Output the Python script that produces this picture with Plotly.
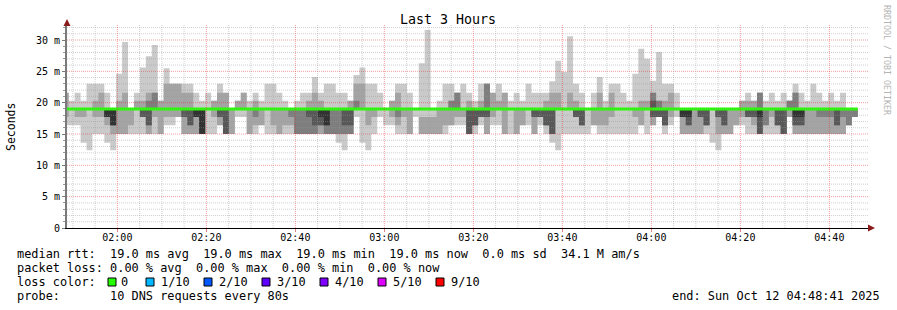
import plotly.graph_objects as go
import pandas as pd

# ---------------- data ----------------
start_time = "2025-10-12 01:47:44"
step_seconds = 80
end_label = "2025-10-12 04:48:41"

# 10 sorted ping round-trip times per 80 s step (ms)
ping1 = [16.4,16.4,16.4,13.6,12.4,15.0,15.0,13.6,12.4,15.0,
         15.0,15.0,15.0,15.0,15.0,15.0,15.0,16.4,16.4,17.7,
         15.0,15.0,15.0,15.0,15.0,15.0,16.4,15.0,15.0,17.7,
         17.7,15.0,15.0,16.4,15.0,15.0,15.0,15.0,15.0,15.0,
         15.0,15.0,15.0,15.0,15.0,15.0,13.6,12.4,15.0,17.7,
         13.6,12.4,15.0,17.7,16.4,16.4,15.0,15.0,15.0,17.7,
         15.0,15.0,15.0,15.0,15.0,16.4,16.4,16.4,15.0,15.0,
         16.4,15.0,16.4,16.4,15.0,15.0,15.0,16.4,16.4,15.0,
         16.4,15.0,13.6,12.4,15.0,15.0,15.0,15.0,15.0,16.4,
         15.0,15.0,15.0,15.0,15.0,15.0,15.0,16.4,15.0,16.4,
         17.7,15.0,16.4,17.7,15.0,15.0,15.0,15.0,15.0,13.6,
         12.4,15.0,15.0,16.4,16.4,15.0,15.0,15.0,15.0,15.0,
         15.0,15.0,17.7,15.0,15.0,15.0,15.0,15.0,15.0,15.0,
         15.0,15.0,16.4,17.7]
ping2 = [17.7,19.0,17.7,17.7,19.0,17.7,17.7,16.4,15.0,15.0,
         15.0,16.4,19.0,17.7,15.0,17.7,15.0,17.7,17.7,17.7,
         15.0,15.0,15.0,15.0,19.0,17.7,16.4,15.0,15.0,19.0,
         19.0,15.0,16.4,16.4,19.0,16.4,15.0,16.4,16.4,15.0,
         15.0,15.0,15.0,15.0,15.0,15.0,15.0,15.0,15.0,19.0,
         19.0,16.4,17.7,19.0,19.0,17.7,16.4,17.7,15.0,19.0,
         15.0,15.0,15.0,15.0,16.4,16.4,17.7,17.7,15.0,16.4,
         17.7,15.0,17.7,19.0,15.0,19.0,15.0,16.4,19.0,15.0,
         17.7,16.4,15.0,19.0,19.0,19.0,17.7,16.4,19.0,16.4,
         16.4,16.4,17.7,19.0,19.0,19.0,17.7,16.4,19.0,16.4,
         17.7,16.4,17.7,19.0,15.0,15.0,15.0,15.0,16.4,19.0,
         15.0,15.0,15.0,16.4,17.7,17.7,16.4,15.0,16.4,17.7,
         16.4,15.0,17.7,15.0,15.0,15.0,15.0,15.0,15.0,15.0,
         15.0,15.0,16.4,17.7]
ping3 = [19.0,19.0,19.0,19.0,19.0,19.0,19.0,17.7,16.4,19.0,
         19.0,19.0,19.0,17.7,16.4,19.0,19.0,19.0,19.0,19.0,
         17.7,16.4,17.7,15.0,19.0,19.0,17.7,15.0,19.0,19.0,
         19.0,19.0,17.7,19.0,19.0,19.0,19.0,19.0,17.7,15.0,
         15.0,15.0,15.0,16.4,15.0,15.0,15.0,15.0,15.0,19.0,
         19.0,19.0,19.0,19.0,19.0,19.0,17.7,19.0,19.0,19.0,
         17.7,17.7,17.7,19.0,19.0,19.0,19.0,19.0,15.0,16.4,
         17.7,17.7,19.0,19.0,19.0,19.0,19.0,19.0,19.0,17.7,
         17.7,16.4,15.0,19.0,19.0,19.0,17.7,16.4,19.0,19.0,
         19.0,19.0,19.0,19.0,19.0,19.0,19.0,19.0,19.0,17.7,
         17.7,16.4,19.0,19.0,17.7,16.4,19.0,17.7,16.4,19.0,
         17.7,16.4,19.0,19.0,19.0,17.7,17.7,15.0,16.4,19.0,
         16.4,15.0,19.0,16.4,16.4,19.0,19.0,17.7,17.7,17.7,
         16.4,17.7,16.4,17.7]
ping4 = [19.0,19.0,19.0,19.0,19.0,19.0,19.0,17.7,16.4,19.0,
         19.0,19.0,19.0,17.7,16.4,19.0,19.0,19.0,19.0,19.0,
         17.7,16.4,17.7,15.0,19.0,19.0,17.7,15.0,19.0,19.0,
         19.0,19.0,19.0,19.0,19.0,19.0,19.0,19.0,19.0,19.0,
         19.0,17.7,16.4,16.4,16.4,19.0,19.0,16.4,16.4,19.0,
         19.0,19.0,19.0,19.0,19.0,19.0,19.0,19.0,19.0,19.0,
         17.7,17.7,17.7,19.0,19.0,19.0,19.0,19.0,15.0,16.4,
         17.7,17.7,19.0,19.0,19.0,19.0,19.0,19.0,19.0,17.7,
         17.7,16.4,15.0,19.0,19.0,19.0,17.7,16.4,19.0,19.0,
         19.0,19.0,19.0,19.0,19.0,19.0,19.0,19.0,19.0,17.7,
         17.7,16.4,19.0,19.0,17.7,16.4,19.0,17.7,16.4,19.0,
         17.7,16.4,19.0,19.0,19.0,17.7,17.7,15.0,19.0,19.0,
         16.4,15.0,19.0,16.4,16.4,19.0,19.0,19.0,19.0,19.0,
         16.4,19.0,19.0,19.0]
ping5 = [19.0,19.0,19.0,19.0,19.0,19.0,19.0,17.7,16.4,19.0,
         19.0,19.0,19.0,19.0,19.0,19.0,19.0,19.0,19.0,19.0,
         19.0,19.0,17.7,15.0,19.0,19.0,19.0,19.0,19.0,19.0,
         19.0,19.0,19.0,19.0,19.0,19.0,19.0,19.0,19.0,19.0,
         19.0,19.0,19.0,17.7,16.4,19.0,19.0,19.0,19.0,19.0,
         19.0,19.0,19.0,19.0,19.0,19.0,19.0,19.0,19.0,19.0,
         17.7,17.7,17.7,19.0,19.0,19.0,19.0,19.0,19.0,19.0,
         19.0,19.0,19.0,19.0,19.0,19.0,19.0,19.0,19.0,19.0,
         19.0,19.0,19.0,19.0,19.0,19.0,19.0,19.0,19.0,19.0,
         19.0,19.0,19.0,19.0,19.0,19.0,19.0,19.0,19.0,19.0,
         19.0,19.0,19.0,19.0,17.7,17.7,19.0,19.0,19.0,19.0,
         19.0,19.0,19.0,19.0,19.0,19.0,19.0,17.7,19.0,19.0,
         19.0,19.0,19.0,17.7,17.7,19.0,19.0,19.0,19.0,19.0,
         19.0,19.0,19.0,19.0]
ping6 = [19.0,19.0,19.0,19.0,19.0,19.0,19.0,19.0,19.0,19.0,
         19.0,19.0,19.0,19.0,19.0,19.0,19.0,19.0,19.0,19.0,
         19.0,19.0,19.0,19.0,19.0,19.0,19.0,19.0,19.0,19.0,
         19.0,19.0,19.0,19.0,19.0,19.0,19.0,19.0,19.0,19.0,
         19.0,19.0,19.0,19.0,19.0,19.0,19.0,19.0,19.0,19.0,
         19.0,19.0,19.0,19.0,19.0,19.0,19.0,19.0,19.0,19.0,
         17.7,17.7,17.7,19.0,19.0,19.0,19.0,19.0,19.0,19.0,
         19.0,19.0,19.0,19.0,19.0,19.0,19.0,19.0,19.0,19.0,
         19.0,19.0,19.0,19.0,19.0,19.0,19.0,19.0,19.0,19.0,
         19.0,19.0,19.0,19.0,19.0,19.0,19.0,19.0,19.0,19.0,
         19.0,19.0,19.0,19.0,19.0,19.0,19.0,19.0,19.0,19.0,
         19.0,19.0,19.0,19.0,19.0,19.0,19.0,19.0,19.0,19.0,
         19.0,19.0,19.0,19.0,19.0,19.0,19.0,19.0,19.0,19.0,
         19.0,19.0,19.0,19.0]
ping7 = [19.0,19.0,19.0,19.0,19.0,19.0,19.0,19.0,19.0,19.0,
         19.0,19.0,19.0,19.0,19.0,19.0,19.0,19.0,19.0,19.0,
         19.0,19.0,19.0,19.0,19.0,19.0,19.0,19.0,19.0,19.0,
         19.0,19.0,19.0,19.0,19.0,19.0,19.0,19.0,19.0,19.0,
         19.0,19.0,19.0,19.0,19.0,19.0,19.0,19.0,19.0,19.0,
         19.0,19.0,19.0,19.0,19.0,19.0,19.0,19.0,19.0,19.0,
         17.7,17.7,17.7,19.0,19.0,19.0,19.0,19.0,19.0,19.0,
         19.0,19.0,19.0,19.0,19.0,19.0,19.0,19.0,19.0,19.0,
         19.0,19.0,19.0,19.0,19.0,19.0,19.0,19.0,19.0,19.0,
         19.0,19.0,19.0,19.0,19.0,19.0,19.0,19.0,19.0,20.3,
         19.0,19.0,19.0,19.0,19.0,19.0,19.0,19.0,19.0,19.0,
         19.0,19.0,19.0,19.0,19.0,19.0,19.0,19.0,19.0,19.0,
         19.0,19.0,19.0,19.0,19.0,19.0,19.0,19.0,19.0,19.0,
         19.0,19.0,19.0,19.0]
ping8 = [19.0,19.0,19.0,19.0,19.0,19.0,19.0,19.0,19.0,19.0,
         19.0,19.0,19.0,19.0,20.3,21.6,19.0,19.0,19.0,19.0,
         19.0,19.0,19.0,19.0,19.0,19.0,19.0,19.0,19.0,19.0,
         19.0,19.0,19.0,19.0,19.0,19.0,19.0,19.0,19.0,19.0,
         19.0,19.0,19.0,19.0,19.0,19.0,19.0,19.0,19.0,20.3,
         19.0,19.0,19.0,19.0,19.0,19.0,19.0,19.0,19.0,19.0,
         17.7,17.7,17.7,19.0,19.0,20.3,21.6,19.0,19.0,19.0,
         19.0,23.0,19.0,19.0,19.0,19.0,19.0,19.0,19.0,19.0,
         19.0,19.0,19.0,19.0,19.0,19.0,19.0,19.0,19.0,19.0,
         19.0,19.0,19.0,19.0,19.0,19.0,19.0,19.0,19.0,21.6,
         20.3,19.0,19.0,19.0,19.0,19.0,19.0,19.0,19.0,19.0,
         19.0,19.0,19.0,19.0,19.0,19.0,19.0,21.6,19.0,19.0,
         19.0,19.0,20.3,21.6,19.0,19.0,19.0,19.0,19.0,19.0,
         19.0,19.0,19.0,19.0]
ping9 = [21.6,19.0,19.0,19.0,19.0,20.3,21.6,19.0,19.0,20.3,
         21.6,19.0,20.3,20.3,21.6,21.6,20.3,23.0,23.0,23.0,
         21.6,21.6,19.0,19.0,19.0,20.3,21.6,21.6,19.0,20.3,
         21.6,19.0,20.3,19.0,19.0,19.0,19.0,19.0,19.0,19.0,
         19.0,20.3,21.6,20.3,19.0,19.0,19.0,19.0,20.3,23.0,
         23.0,19.0,19.0,19.0,19.0,20.3,21.6,19.0,19.0,19.0,
         17.7,17.7,17.7,19.0,19.0,20.3,21.6,19.0,20.3,19.0,
         20.3,23.0,21.6,20.3,21.6,19.0,19.0,19.0,19.0,19.0,
         19.0,20.3,21.6,21.6,19.0,21.6,20.3,19.0,19.0,19.0,
         21.6,19.0,21.6,19.0,19.0,19.0,19.0,20.3,20.3,21.6,
         20.3,20.3,21.6,19.0,19.0,19.0,19.0,19.0,19.0,19.0,
         19.0,19.0,19.0,19.0,20.3,20.3,20.3,21.6,19.0,19.0,
         19.0,19.0,20.3,21.6,19.0,19.0,19.0,19.0,19.0,19.0,
         19.0,19.0,19.0,19.0]
ping10 = [21.6,20.3,21.6,20.3,23.0,23.0,23.0,21.6,19.0,24.6,
          29.7,19.0,21.6,25.6,27.4,29.2,20.3,25.5,23.0,23.0,
          23.0,23.0,21.6,20.3,21.6,20.3,23.0,21.6,19.0,20.3,
          21.6,20.3,21.6,20.3,23.0,23.0,21.6,20.3,19.0,20.3,
          21.6,21.6,24.1,21.6,23.0,23.0,21.6,21.6,20.3,24.4,
          25.6,23.0,23.0,21.6,19.0,20.3,23.0,23.0,21.6,19.0,
          26.3,31.6,19.0,20.3,23.0,23.0,21.6,23.0,21.6,20.3,
          23.0,23.0,21.6,23.0,21.6,20.3,21.6,20.3,23.0,21.6,
          21.6,21.6,23.4,26.7,24.9,30.6,23.0,21.6,19.0,21.6,
          24.1,20.3,23.0,23.0,21.6,20.3,24.6,28.6,27.0,23.5,
          28.1,23.0,23.0,21.6,19.0,19.0,19.0,19.0,19.0,19.0,
          19.0,19.0,19.0,19.0,20.3,21.6,20.3,21.6,20.3,21.6,
          20.3,21.6,20.3,23.0,21.6,20.3,23.0,21.6,20.3,21.6,
          20.3,21.6,19.0,19.0]
median_rtt = [19.0,19.0,19.0,19.0,19.0,19.0,19.0,19.0,19.0,19.0,
              19.0,19.0,19.0,19.0,19.0,19.0,19.0,19.0,19.0,19.0,
              19.0,19.0,19.0,19.0,19.0,19.0,19.0,19.0,19.0,19.0,
              19.0,19.0,19.0,19.0,19.0,19.0,19.0,19.0,19.0,19.0,
              19.0,19.0,19.0,19.0,19.0,19.0,19.0,19.0,19.0,19.0,
              19.0,19.0,19.0,19.0,19.0,19.0,19.0,19.0,19.0,19.0,
              19.0,19.0,19.0,19.0,19.0,19.0,19.0,19.0,19.0,19.0,
              19.0,19.0,19.0,19.0,19.0,19.0,19.0,19.0,19.0,19.0,
              19.0,19.0,19.0,19.0,19.0,19.0,19.0,19.0,19.0,19.0,
              19.0,19.0,19.0,19.0,19.0,19.0,19.0,19.0,19.0,19.0,
              19.0,19.0,19.0,19.0,19.0,19.0,19.0,19.0,19.0,19.0,
              19.0,19.0,19.0,19.0,19.0,19.0,19.0,19.0,19.0,19.0,
              19.0,19.0,19.0,19.0,19.0,19.0,19.0,19.0,19.0,19.0,
              19.0,19.0,19.0,19.0]

y_tick_values = [0, 5, 10, 15, 20, 25, 30]
y_tick_labels = ["0", "5 m", "10 m", "15 m", "20 m", "25 m", "30 m"]

legend_lines = [
    "median rtt:  19.0 ms avg  19.0 ms max  19.0 ms min  19.0 ms now  0.0 ms sd  34.1 M am/s",
    "packet loss: 0.00 % avg  0.00 % max  0.00 % min  0.00 % now",
    "loss color:",
    "probe:       10 DNS requests every 80s",
]
loss_labels = ["0", "1/10", "2/10", "3/10", "4/10", "5/10", "9/10"]
loss_colors = ["#26ff00", "#00b8ff", "#0059ff", "#5e00ff", "#7e00ff", "#dd00ff", "#ff0000"]
end_text = "end: Sun Oct 12 04:48:41 2025"

# ---------------- figure ----------------
W, H = 897, 310
L, R, T, B = 67, 868, 25, 228          # plot area in pixels
MONO = "DejaVu Sans Mono"

def pxx(x):
    return (x - L) / (R - L)

def pxy(y):
    return (B - y) / (B - T)

times = pd.date_range(start_time, periods=len(ping1), freq=f"{step_seconds}s")
end_time = pd.Timestamp(end_label)
range_start = end_time - pd.Timedelta(hours=3)
x_ext = list(times) + [times[-1] + pd.Timedelta(seconds=step_seconds)]

pings = [ping1, ping2, ping3, ping4, ping5, ping6, ping7, ping8, ping9, ping10]
smoke_colors = ["#cacaca", "#a4a4a4", "#7e7e7e", "#585858", "#323232"]

fig = go.Figure()
for i in range(5):
    lo = pings[i]
    hi = pings[9 - i]
    fig.add_trace(go.Scatter(
        x=x_ext, y=lo + [lo[-1]], mode="lines",
        line=dict(width=0, shape="hv"), hoverinfo="skip", showlegend=False,
    ))
    fig.add_trace(go.Scatter(
        x=x_ext, y=hi + [hi[-1]], mode="lines", fill="tonexty",
        fillcolor=smoke_colors[i],
        line=dict(width=0, shape="hv"), hoverinfo="skip", showlegend=False,
    ))

fig.add_trace(go.Scatter(
    x=x_ext, y=median_rtt + [median_rtt[-1]], mode="lines",
    line=dict(color=loss_colors[0], width=3, shape="hv"),
    hoverinfo="skip", showlegend=False,
))

shapes = []
minor_col = "rgba(150,150,150,0.45)"
major_col = "rgba(230,40,40,0.45)"
ymax = (B - T) / (188 / 30)
for v in range(1, 33):
    shapes.append(dict(type="line", xref="paper", yref="y", x0=0, x1=1, y0=v, y1=v,
                       line=dict(color=major_col if v % 5 == 0 else minor_col, width=1, dash="1px,1px"),
                       layer="above"))
for t in pd.date_range("2025-10-12 01:50", "2025-10-12 04:45", freq="5min"):
    shapes.append(dict(type="line", xref="x", yref="paper", x0=t, x1=t, y0=0, y1=1,
                       line=dict(color=major_col if t.minute % 20 == 0 else minor_col, width=1, dash="1px,1px"),
                       layer="above"))

# axis arrows
arrow_col = "#8b1a1a"
shapes.append(dict(type="path", xref="paper", yref="paper", layer="above",
                   path=f"M {pxx(67)} {pxy(19)} L {pxx(63.5)} {pxy(26)} L {pxx(70.5)} {pxy(26)} Z",
                   fillcolor=arrow_col, line=dict(width=0)))
shapes.append(dict(type="path", xref="paper", yref="paper", layer="above",
                   path=f"M {pxx(875)} {pxy(228)} L {pxx(868)} {pxy(224.5)} L {pxx(868)} {pxy(231.5)} Z",
                   fillcolor=arrow_col, line=dict(width=0)))

# loss colour boxes
box_left = [108, 146, 204, 262, 320, 378, 436]
label_left = [120, 160, 218, 276, 334, 392, 450]
for bx, col in zip(box_left, loss_colors):
    shapes.append(dict(type="rect", xref="paper", yref="paper",
                       x0=pxx(bx), x1=pxx(bx + 8), y0=pxy(278), y1=pxy(286),
                       fillcolor=col, line=dict(color="black", width=1)))

annotations = []
def txt(s):
    return s.replace(" ", "\u00a0")

annotations.append(dict(text="Last 3 Hours", x=pxx(448), y=pxy(19), xref="paper", yref="paper",
                        showarrow=False, xanchor="center", yanchor="middle",
                        font=dict(family=MONO, size=13.3, color="black")))
annotations.append(dict(text="Seconds", x=pxx(11), y=pxy(127), xref="paper", yref="paper",
                        showarrow=False, textangle=-90, xanchor="center", yanchor="middle",
                        font=dict(family=MONO, size=11.5, color="black")))
annotations.append(dict(text=txt("RRDTOOL / TOBI OETIKER"), x=pxx(887), y=pxy(60), xref="paper", yref="paper",
                        showarrow=False, textangle=90, xanchor="center", yanchor="middle",
                        font=dict(family=MONO, size=8.3, color="#b4b4b4")))
for line, yy in zip(legend_lines, [254, 268, 282, 296]):
    annotations.append(dict(text=txt(line), x=pxx(16), y=pxy(yy), xref="paper", yref="paper",
                            showarrow=False, xanchor="left", yanchor="middle", borderpad=0,
                            font=dict(family=MONO, size=11.9, color="black")))
for lx, lab in zip(label_left, loss_labels):
    annotations.append(dict(text=lab, x=pxx(lx), y=pxy(282), xref="paper", yref="paper",
                            showarrow=False, xanchor="left", yanchor="middle", borderpad=0,
                            font=dict(family=MONO, size=11.9, color="black")))
annotations.append(dict(text=txt(end_text), x=pxx(881), y=pxy(296), xref="paper", yref="paper",
                        showarrow=False, xanchor="right", yanchor="middle", borderpad=0,
                        font=dict(family=MONO, size=11.9, color="black")))

fig.update_layout(
    width=W, height=H,
    margin=dict(l=L, r=W - R, t=T, b=H - B, pad=0),
    paper_bgcolor="white", plot_bgcolor="white",
    showlegend=False,
    shapes=shapes, annotations=annotations,
    xaxis=dict(type="date", range=[range_start, end_time],
               tickformat="%H:%M", tick0="2025-10-12 00:00:00", dtick=20 * 60 * 1000,
               showgrid=False, zeroline=False, showline=True, linecolor="black", linewidth=1,
               ticks="outside", ticklen=3, tickcolor="#e08080", ticklabelstandoff=-3,
               tickfont=dict(family=MONO, size=10, color="black")),
    yaxis=dict(range=[0, ymax], tickvals=y_tick_values, ticktext=y_tick_labels,
               showgrid=False, zeroline=False, showline=True, linecolor="#7a7a7a", linewidth=2,
               ticks="outside", ticklen=3, tickcolor="#7a7a7a",
               minor=dict(dtick=1, ticks="outside", ticklen=2, tickcolor="#9a9a9a", showgrid=False),
               tickfont=dict(family=MONO, size=10, color="black")),
)

fig.write_html("out.html")
